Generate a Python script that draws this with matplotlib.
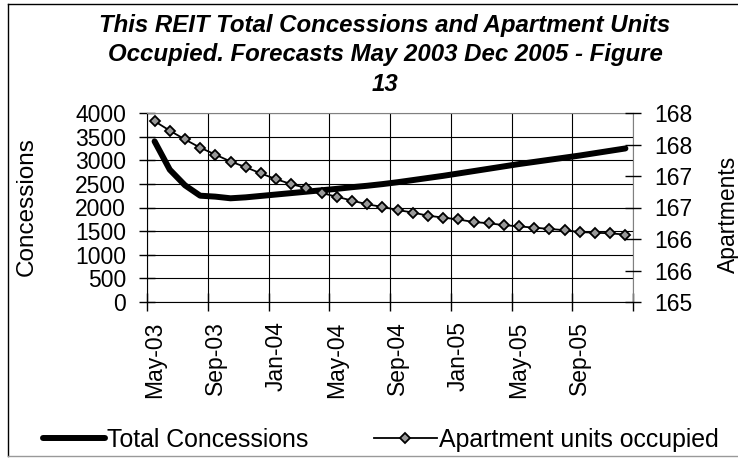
import matplotlib
matplotlib.use('Agg')
import matplotlib.pyplot as plt
import numpy as np
from matplotlib.lines import Line2D

plt.rcParams['font.family'] = ['Liberation Sans', 'DejaVu Sans']

# monthly categories May-03 .. Dec-05
months = ['May-03', 'Jun-03', 'Jul-03', 'Aug-03', 'Sep-03', 'Oct-03', 'Nov-03', 'Dec-03',
          'Jan-04', 'Feb-04', 'Mar-04', 'Apr-04', 'May-04', 'Jun-04', 'Jul-04', 'Aug-04',
          'Sep-04', 'Oct-04', 'Nov-04', 'Dec-04', 'Jan-05', 'Feb-05', 'Mar-05', 'Apr-05',
          'May-05', 'Jun-05', 'Jul-05', 'Aug-05', 'Sep-05', 'Oct-05', 'Nov-05', 'Dec-05']

concessions = [3400, 2800, 2470, 2250, 2230, 2195, 2215, 2245, 2275, 2305, 2335, 2365,
               2395, 2430, 2460, 2495, 2535, 2580, 2625, 2670, 2720, 2770, 2820, 2870,
               2920, 2965, 3010, 3055, 3100, 3150, 3200, 3250]

apartments = [167.87, 167.72, 167.58, 167.45, 167.34, 167.23, 167.14, 167.04, 166.95,
              166.87, 166.81, 166.73, 166.67, 166.61, 166.55, 166.51, 166.46, 166.42,
              166.37, 166.34, 166.31, 166.27, 166.25, 166.22, 166.20, 166.18, 166.16,
              166.14, 166.11, 166.10, 166.09, 166.07]

left_ticks = [0, 500, 1000, 1500, 2000, 2500, 3000, 3500, 4000]
right_ticks = [165, 165.5, 166, 166.5, 167, 167.5, 168]
right_labels = ['165', '166', '166', '167', '167', '168', '168']

title = ('This REIT Total Concessions and Apartment Units\n'
         'Occupied. Forecasts May 2003 Dec 2005 - Figure\n13')

W, H = 738, 459
fig = plt.figure(figsize=(W / 100, H / 100), dpi=100)
ax = fig.add_axes([147 / W, 1 - 302 / H, (633 - 147) / W, (302 - 113) / H])

x = np.arange(len(months))
ax.plot(x, concessions, color='black', lw=4.3, solid_capstyle='round',
        solid_joinstyle='round', label='Total Concessions', zorder=3)
ax.set_xlim(-0.5, len(months) - 0.5)
ax.set_ylim(0, 4000)
ax.set_yticks(left_ticks)
ax.set_yticklabels([str(t) for t in left_ticks])

# boundaries get tick marks + grid, centres get labels
ax.set_xticks(np.arange(-0.5, len(months), 4))
ax.set_xticklabels([])
ax.set_xticks(x[::4], minor=True)
ax.set_xticklabels(months[::4], minor=True, rotation=90)
ax.tick_params(axis='x', which='minor', length=0, pad=14, labelsize=16.5)
ax.tick_params(axis='x', which='major', direction='inout', length=13, width=1)
ax.tick_params(axis='y', direction='inout', length=12, width=1, labelsize=16.5, pad=9)
ax.grid(True, which='major', color='black', lw=0.8)
ax.set_axisbelow(True)
ax.spines['top'].set_color('#808080')
ax.spines['right'].set_color('#808080')

ax2 = ax.twinx()
ax2.plot(x, apartments, color='black', lw=1.3, marker='D', markersize=5,
         markerfacecolor='#999999', markeredgecolor='black', markeredgewidth=1.3,
         label='Apartment units occupied')
ax2.set_ylim(165, 168)
ax2.set_yticks(right_ticks)
ax2.set_yticklabels(right_labels)
ax2.tick_params(axis='y', direction='inout', length=12, width=1, labelsize=16.5, pad=9)
for s in ax2.spines.values():
    s.set_visible(False)

fig.text(27 / W, 1 - 207 / H, 'Concessions', rotation=90, ha='center', va='center',
         fontsize=17.5)
fig.text(728 / W, 1 - 214 / H, 'Apartments', rotation=90, ha='center', va='center',
         fontsize=16.5)

fig.text(385 / W, 1 - 55 / H, title, ha='center', va='center', fontsize=17.3,
         fontweight='bold', fontstyle='italic', linespacing=1.36)

h1, l1 = ax.get_legend_handles_labels()
h2, l2 = ax2.get_legend_handles_labels()
fig.legend(h1 + h2, l1 + l2, loc='center left', bbox_to_anchor=(43 / W, 1 - 440 / H),
           ncol=2, frameon=False, fontsize=17.9, handlelength=2.5, handletextpad=0.08,
           columnspacing=2.65, borderpad=0, borderaxespad=0)

# chart border
fig.add_artist(Line2D([8 / W, 8 / W], [1 - 456 / H, 1 - 4 / H], color='black', lw=1))
fig.add_artist(Line2D([8 / W, 1], [1 - 4 / H, 1 - 4 / H], color='black', lw=1))
fig.add_artist(Line2D([8 / W, 1], [1 - 456 / H, 1 - 456 / H], color='#999999', lw=1))

fig.savefig('out.png', dpi=100)
